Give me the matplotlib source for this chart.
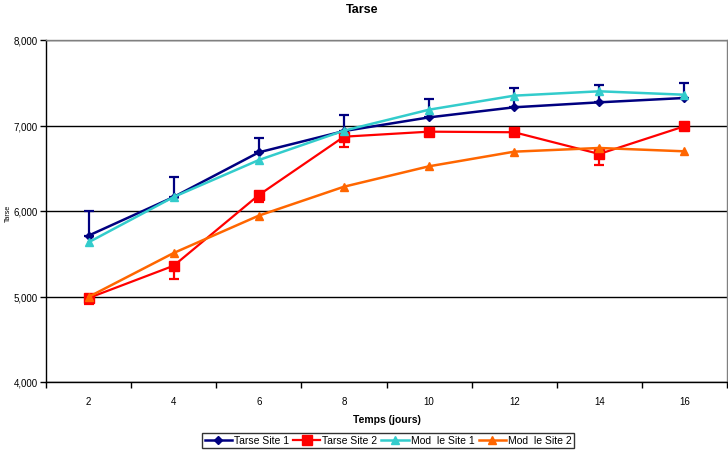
import matplotlib
matplotlib.use("Agg")
import matplotlib.pyplot as plt
import numpy as np

days = ["2", "4", "6", "8", "10", "12", "14", "16"]
tarse_site1 = [5712, 6164, 6686, 6935, 7095, 7213, 7271, 7322]
tarse_site1_err_up = [288, 236, 168, 190, 215, 230, 203, 179]
tarse_site2 = [4982, 5360, 6187, 6869, 6928, 6921, 6667, 6991]
tarse_site2_err_down = [72, 155, 85, 117, 0, 0, 125, 0]
mod_site1 = [5634, 6164, 6596, 6940, 7185, 7349, 7400, 7360]
mod_site2 = [4995, 5509, 5946, 6284, 6523, 6694, 6737, 6698]
labels = ["Tarse Site 1", "Tarse Site 2", "Mod  le Site 1", "Mod  le Site 2"]
yticks = [4000, 5000, 6000, 7000, 8000]

plt.rcParams['font.family'] = ['Liberation Sans', 'DejaVu Sans']

W, H = 728, 452
fig = plt.figure(figsize=(W / 100, H / 100), dpi=100)
ax = fig.add_axes([46 / W, 1 - 383 / H, (727 - 46) / W, (383 - 41) / H])

x = np.arange(len(days))
zero = [0] * len(days)

c1 = ax.errorbar(x, tarse_site1, yerr=[zero, tarse_site1_err_up], color="#000080",
                 marker="D", markersize=4.5, linewidth=1.8, capsize=3.5, elinewidth=1.6,
                 capthick=1.6, zorder=3)
c2 = ax.errorbar(x, tarse_site2, yerr=[tarse_site2_err_down, zero], color="#FF0000",
                 marker="s", markersize=7, linewidth=1.6, capsize=3.5, elinewidth=1.6,
                 capthick=1.6, zorder=4)
l3, = ax.plot(x, mod_site1, color="#33CCCC", marker="^", markersize=6, linewidth=1.8,
              zorder=5)
l4, = ax.plot(x, mod_site2, color="#FF6600", marker="^", markersize=6, linewidth=1.8,
              zorder=6)

ax.set_xlim(-0.5, len(days) - 0.5)
ax.set_ylim(4000, 8000)
ax.set_yticks(yticks)
ax.set_yticklabels([f"{v:,}" for v in yticks], fontsize=7)
ax.yaxis.grid(True, color="black", linewidth=1)
ax.set_axisbelow(True)

ax.set_xticks(np.arange(-0.5, len(days), 1.0))
ax.set_xticklabels([])
ax.set_xticks(x, minor=True)
ax.set_xticklabels(days, minor=True, fontsize=7)
ax.tick_params(axis="x", which="major", length=4, width=1, direction="out")
ax.tick_params(axis="x", which="minor", length=0, pad=10)
ax.tick_params(axis="y", length=4, width=1, direction="out", pad=2)

for s in ["top", "right"]:
    ax.spines[s].set_color("#808080")
    ax.spines[s].set_linewidth(1)
for s in ["left", "bottom"]:
    ax.spines[s].set_color("black")
    ax.spines[s].set_linewidth(1)

ax.set_xlabel("Temps (jours)", fontsize=7.5, fontweight="bold", labelpad=6)
fig.text(8 / W, 1 - 213 / H, "Tarse", ha="center", va="center",
         rotation=90, fontsize=5)
fig.text(362 / W, 1 - 10 / H, "Tarse", ha="center", va="center",
         fontsize=9, fontweight="bold")

leg = fig.legend([c1.lines[0], c2.lines[0], l3, l4], labels,
                 loc="center", bbox_to_anchor=(388 / W, 1 - 441.5 / H), ncol=4,
                 fontsize=7.5, frameon=True, fancybox=False, edgecolor="black",
                 handlelength=2.6, handletextpad=0.2, columnspacing=0.4,
                 borderpad=0.25, borderaxespad=0)
leg.get_frame().set_linewidth(1)

fig.savefig("out.png", dpi=100)
